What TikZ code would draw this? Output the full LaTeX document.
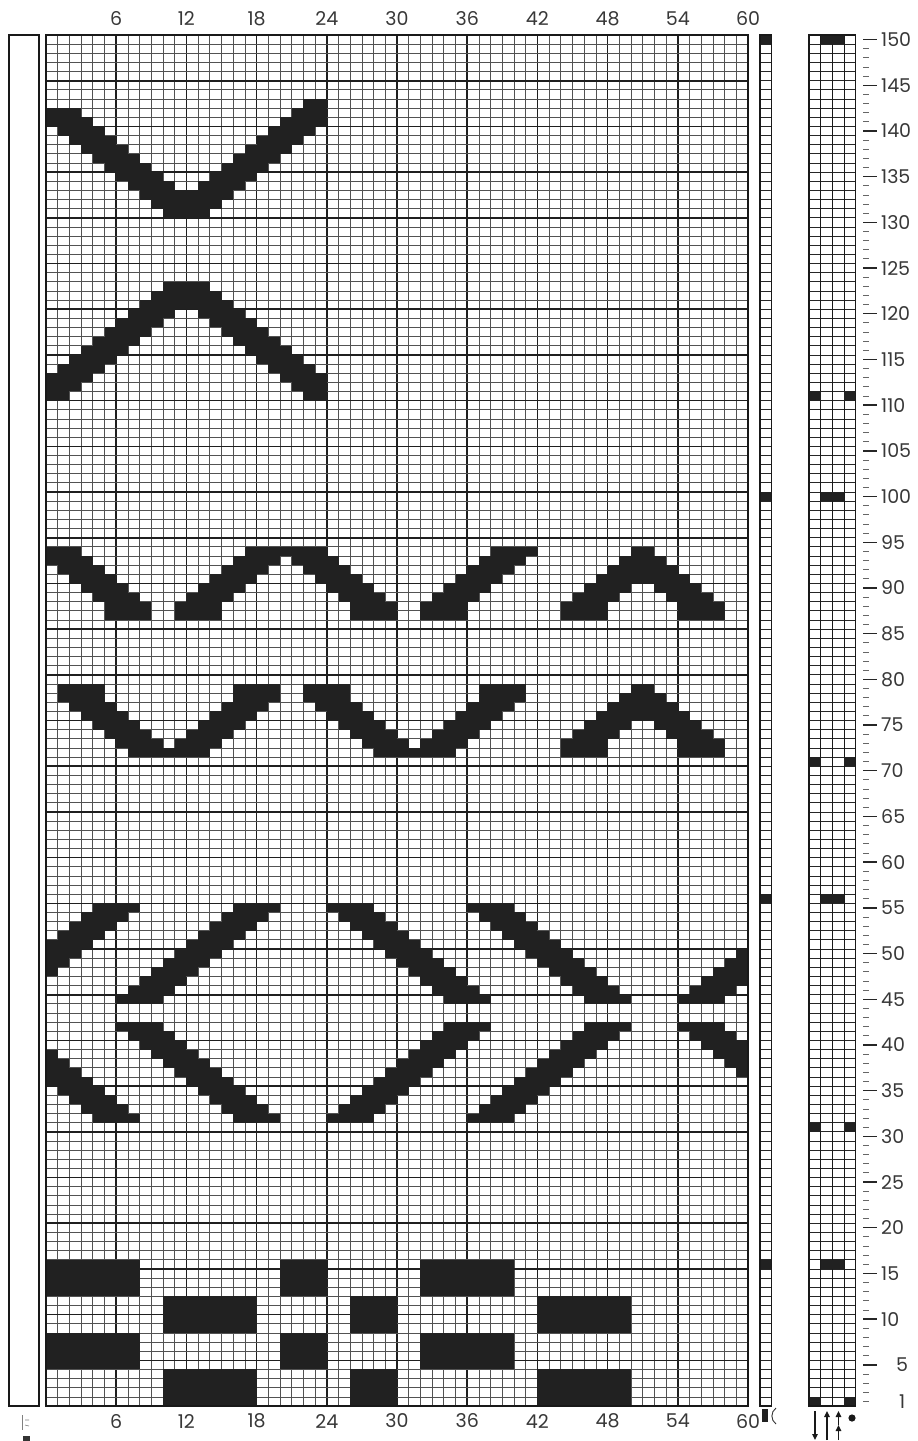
\documentclass[tikz,border=0pt]{standalone}
\usepackage{fontspec}
\setmainfont{Poppins}
\usetikzlibrary{arrows.meta}
\def\gx{46}\def\gy{1406}\def\cw{11.7}\def\rh{9.14}\def\maxc{60}
\newcommand\cellrun[3]{%
  \pgfmathtruncatemacro\ca{max(#2,1)}%
  \pgfmathtruncatemacro\cb{min(#3,\maxc)}%
  \pgfmathtruncatemacro\rr{#1}%
  \ifnum\ca>\cb\relax\else
    \fill[ink] ({\gx+\cw*(\ca-1)},{\gy-\rh*\rr}) rectangle ({\gx+\cw*\cb},{\gy-\rh*(\rr-1)});%
  \fi}
\newcommand\vpeak[3]{%
  \pgfmathtruncatemacro\pL{#2}\pgfmathtruncatemacro\pR{#3}%
  \pgfmathtruncatemacro\pa{\pL+4}\pgfmathtruncatemacro\pb{\pR-4}%
  \ifnum\pa>\pb\relax\cellrun{#1}{\pL}{\pR}\else\cellrun{#1}{\pL}{\pL+3}\cellrun{#1}{\pR-3}{\pR}\fi}
\newcommand\blk[4]{\fill[ink] ({\gx+\cw*(#3-1)},{\gy-\rh*#2}) rectangle ({\gx+\cw*#4},{\gy-\rh*(#1-1)});}
\begin{document}
\begin{tikzpicture}[x=1pt,y=-1pt,
  thinline/.style={line width=0.75pt, draw=black!68},
  boldline/.style={line width=1.6pt, draw=black!88},
  frame/.style={line width=1.5pt, draw=black!90},
  lab/.style={font=\fontsize{19}{19}\selectfont, text=black!78, inner sep=0pt},
  ink/.style={fill=black!87},
  arr/.style={line width=1.3pt, draw=black!90, -{Triangle[length=6pt,width=5.5pt]}}]
\useasboundingbox (0,0) rectangle (918,1441);
\fill[white] (0,0) rectangle (918,1441);
% ---- main grid lines
\foreach \c in {1,...,59}{%
  \pgfmathtruncatemacro\m{mod(\c,6)}%
  \ifnum\m=0 \draw[boldline] ({\gx+\cw*\c},35) -- ({\gx+\cw*\c},\gy);
  \else \draw[thinline] ({\gx+\cw*\c},35) -- ({\gx+\cw*\c},\gy); \fi}
\foreach \r in {1,...,149}{%
  \pgfmathtruncatemacro\m{mod(\r,5)}%
  \ifnum\m=0 \draw[boldline] (\gx,{\gy-\rh*\r}) -- ({\gx+\cw*60},{\gy-\rh*\r});
  \else \draw[thinline] (\gx,{\gy-\rh*\r}) -- ({\gx+\cw*60},{\gy-\rh*\r}); \fi}
% ---- section 1: V (rows 131-143), cols 1-24
\def\maxc{24}
\foreach \r in {131,...,142}{\vpeak{\r}{142-\r}{\r-117}}
\cellrun{143}{23}{24}
% ---- section 2: inverted V (rows 111-123)
\foreach \r in {111,...,123}{\vpeak{\r}{\r-112}{137-\r}}
\def\maxc{60}
% ---- section 3 (rows 87-94)
\foreach \r in {88,...,94}{\cellrun{\r}{94-\r}{97-\r}}
\cellrun{87}{6}{9}
\foreach \r in {88,...,94}{\vpeak{\r}{\r-76}{118-\r}}
\vpeak{87}{12}{30}
\foreach \r in {88,...,94}{\cellrun{\r}{\r-55}{\r-52}}
\cellrun{87}{33}{36}
\foreach \r in {88,...,94}{\vpeak{\r}{\r-43}{146-\r}}
\vpeak{87}{45}{58}
% ---- section 4 (rows 72-79)
\foreach \r in {72,...,78}{\vpeak{\r}{80-\r}{\r-58}}
\vpeak{79}{2}{20}
\foreach \r in {72,...,78}{\vpeak{\r}{101-\r}{\r-37}}
\vpeak{79}{23}{41}
\foreach \r in {73,...,79}{\vpeak{\r}{\r-28}{131-\r}}
\vpeak{72}{45}{58}
% ---- section 5: diamonds (rows 32-55)
\foreach \r in {48,...,55}{\cellrun{\r}{\r-50}{\r-47}\cellrun{87-\r}{\r-50}{\r-47}}
\foreach \r in {45,...,55}{\cellrun{\r}{\r-38}{\r-35}\cellrun{87-\r}{\r-38}{\r-35}}
\foreach \r in {45,...,55}{\cellrun{\r}{80-\r}{83-\r}\cellrun{87-\r}{80-\r}{83-\r}}
\foreach \r in {45,...,55}{\cellrun{\r}{92-\r}{95-\r}\cellrun{87-\r}{92-\r}{95-\r}}
\foreach \r in {45,...,50}{\cellrun{\r}{\r+10}{\r+13}\cellrun{87-\r}{\r+10}{\r+13}}
% ---- section 6: blocks
\foreach \a/\b in {13/16,5/8}{\blk{\a}{\b}{1}{8}\blk{\a}{\b}{21}{24}\blk{\a}{\b}{33}{40}}
\foreach \a/\b in {9/12,1/4}{\blk{\a}{\b}{11}{18}\blk{\a}{\b}{27}{30}\blk{\a}{\b}{43}{50}}
% ---- frames
\draw[frame] (\gx,35) rectangle ({\gx+\cw*60},\gy);
\draw[frame, line width=1.3pt] (9,35) rectangle (39,\gy);
% ---- strip 2 (one column)
\foreach \r in {1,...,149}{\draw[thinline, draw=black!85] (760,{\gy-\rh*\r}) -- (771.7,{\gy-\rh*\r});}
\foreach \r in {150,100,56,16}{\fill[ink] (760,{\gy-\rh*\r}) rectangle (771.7,{\gy-\rh*(\r-1)});}
\draw[frame, line width=1.3pt] (760,35) rectangle (771.7,\gy);
% ---- strip 3 (four columns)
\foreach \r in {1,...,149}{\draw[thinline, draw=black!85] (809,{\gy-\rh*\r}) -- (855.8,{\gy-\rh*\r});}
\foreach \k in {1,2,3}{\draw[thinline, draw=black!90, line width=0.9pt] ({809+11.7*\k},35) -- ({809+11.7*\k},\gy);}
\foreach \r in {150,100,56,16}{\fill[ink] (820.7,{\gy-\rh*\r}) rectangle (844.1,{\gy-\rh*(\r-1)});}
\foreach \r in {111,71,31,1}{\fill[ink] (809,{\gy-\rh*\r}) rectangle (820.7,{\gy-\rh*(\r-1)});
  \fill[ink] (844.1,{\gy-\rh*\r}) rectangle (855.8,{\gy-\rh*(\r-1)});}
\draw[frame, line width=1.3pt] (809,35) rectangle (855.8,\gy);
% ---- row scale
\foreach \r in {1,...,150}{%
  \pgfmathtruncatemacro\m{mod(\r,5)}%
  \ifnum\m=0 \draw[line width=1.4pt, black!85] (863,{\gy-\rh*(\r-0.5)}) -- (877,{\gy-\rh*(\r-0.5)});
  \else \draw[line width=0.9pt, black!60] (863,{\gy-\rh*(\r-0.5)}) -- (869,{\gy-\rh*(\r-0.5)}); \fi}
\foreach \r in {10,15,...,150}{\node[lab, anchor=west] (row\r) at (881,{\gy-\rh*(\r-0.5)}) {\r};}
\node[lab, anchor=west] (row5) at (896,{\gy-\rh*4.5}) {5};
\node[lab, anchor=west] (row1) at (899,{\gy-\rh*0.5}) {1};
% ---- column scale
\foreach \k in {1,...,10}{\pgfmathtruncatemacro\n{6*\k}%
  \node[lab] (top\n) at ({\gx+\cw*\n},19) {\n};
  \node[lab] (bot\n) at ({\gx+\cw*\n},1421) {\n};}
% ---- symbols under the strips
\fill[ink] (762,1409) rectangle (767.5,1422);
\draw[line width=0.9pt, black!80] (776,1408) .. controls (770.5,1412) and (770.5,1420) .. (776,1424);
\coordinate (a1t) at (815,1411); \coordinate (a1b) at (815,1440);
\coordinate (a2t) at (827,1411); \coordinate (a2b) at (827,1440);
\coordinate (a3t) at (838.5,1411); \coordinate (a3m) at (838.5,1425); \coordinate (a3b) at (838.5,1440);
\draw[arr] (a1t) -- (a1b);
\draw[arr] (a2b) -- (a2t);
\draw[arr] (a3m) -- (a3t);
\draw[arr] (a3b) -- (a3m);
\fill[black!90] (852,1418) circle (3.6);
% ---- small mark bottom left
\fill[black!80] (23,1436) rectangle (30,1441);
\draw[line width=0.6pt, black!50] (22,1415) -- (22,1430);
\draw[line width=0.6pt, black!50] (25,1420) -- (29,1420) (25,1425) -- (29,1426);
\end{tikzpicture}
\end{document}
